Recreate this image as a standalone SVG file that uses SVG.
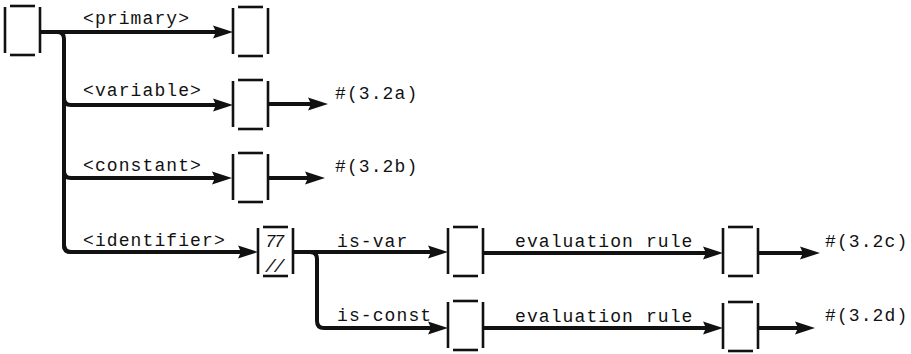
<svg xmlns="http://www.w3.org/2000/svg" xmlns:xlink="http://www.w3.org/1999/xlink" width="911" height="354" viewBox="0 0 911 354">
<style>
.bg{fill:#ffffff}
.cell line{stroke:#111;stroke-width:2.6;stroke-linecap:butt}
.t{font-family:"Liberation Mono","DejaVu Sans Mono",monospace;font-size:18px;letter-spacing:1.1px;fill:#111}
.s{font-family:"Liberation Mono","DejaVu Sans Mono",monospace;font-size:18px;letter-spacing:-2px;fill:#111;font-style:italic}
.c{fill:none;stroke:#111;stroke-width:4;stroke-linejoin:round}
.a{marker-end:url(#ah)}
</style>
<defs>
<marker id="ah" markerUnits="userSpaceOnUse" markerWidth="22" markerHeight="16" refX="6" refY="8" orient="auto">
<path d="M0,1.5 L20,8 L0,14.5 L3,8 Z" fill="#111"/>
</marker>
<g id="cell" class="cell">
<line x1="0" y1="1" x2="0" y2="47"/>
<line x1="35" y1="1" x2="35" y2="47"/>
<line x1="5" y1="0" x2="30" y2="0"/>
<line x1="5" y1="49" x2="30" y2="49"/>
</g>
</defs>
<rect class="bg" x="0" y="0" width="911" height="354"/>
<g id="connectors">
<path class="c a" d="M41,32 H219"/>
<path class="c" d="M57,32 Q64,32 64,39 V245 Q64,252 71,252"/>
<path class="c a" d="M64,98 Q64,105 71,105 H219"/>
<path class="c a" d="M64,171 Q64,178 71,178 H218"/>
<path class="c a" d="M64,245 Q64,252 71,252 H244"/>
<path class="c a" d="M268,104 H314"/>
<path class="c a" d="M269,178 H311"/>
<path class="c a" d="M292,252 H434"/>
<path class="c a" d="M310,252 Q317,252 317,259 V321 Q317,328 324,328 H434"/>
<path class="c a" d="M484,253 H709"/>
<path class="c a" d="M484,328 H709"/>
<path class="c a" d="M759,253 H806"/>
<path class="c a" d="M759,328 H801"/>
</g>
<g id="root"><use xlink:href="#cell" x="5" y="6"/></g>
<g id="primary"><use xlink:href="#cell" x="233" y="7"/><text class="t" x="83" y="24">&lt;primary&gt;</text></g>
<g id="variable"><use xlink:href="#cell" x="233" y="80"/><text class="t" x="83" y="96">&lt;variable&gt;</text><text class="t" x="335" y="99">#(3.2a)</text></g>
<g id="constant"><use xlink:href="#cell" x="233" y="153"/><text class="t" x="83" y="171">&lt;constant&gt;</text><text class="t" x="335" y="172">#(3.2b)</text></g>
<g id="identifier"><use xlink:href="#cell" x="258" y="227"/><text class="t" x="83" y="246">&lt;identifier&gt;</text><text class="s" x="265" y="247">77</text><text class="s" x="265" y="272">//</text></g>
<g id="is-var"><use xlink:href="#cell" x="448" y="227"/><text class="t" x="337" y="247">is-var</text></g>
<g id="is-const"><use xlink:href="#cell" x="448" y="301"/><text class="t" x="337" y="321">is-const</text></g>
<g id="eval-var"><use xlink:href="#cell" x="723" y="227"/><text class="t" x="515" y="247">evaluation rule</text><text class="t" x="825" y="247">#(3.2c)</text></g>
<g id="eval-const"><use xlink:href="#cell" x="723" y="302"/><text class="t" x="515" y="322">evaluation rule</text><text class="t" x="825" y="321">#(3.2d)</text></g>
</svg>
